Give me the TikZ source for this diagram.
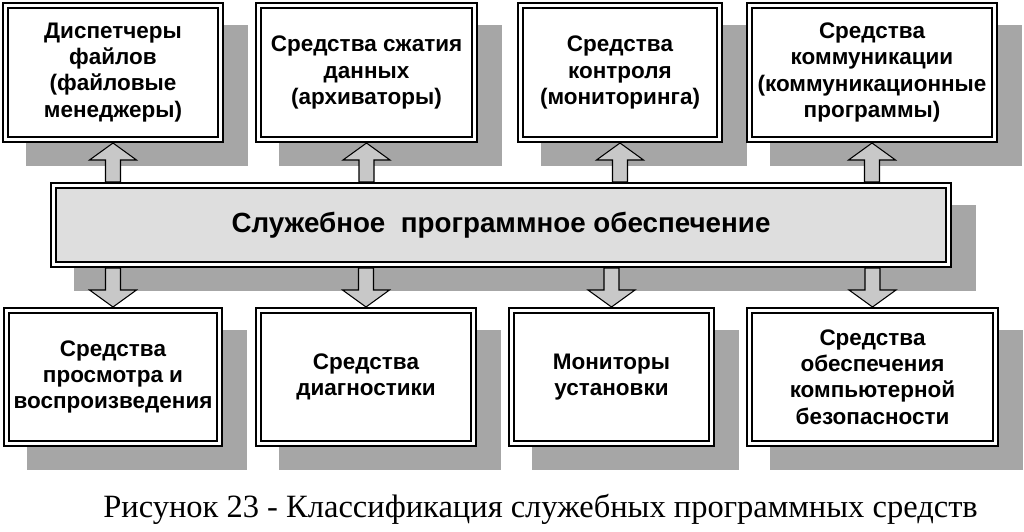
\documentclass[tikz,border=0pt]{standalone}
\usepackage{fontspec}
\setmainfont{Liberation Serif}
\setsansfont{Liberation Sans}
\usetikzlibrary{calc,backgrounds}
\definecolor{shadowgray}{RGB}{166,166,166}
\definecolor{barfill}{RGB}{222,222,222}
\definecolor{arrowfill}{RGB}{200,200,200}
\tikzset{
	toolbox/.style={draw, fill=white, line width=1.3pt, double=white, double distance=1.4pt,
		outer sep=2pt, inner sep=0pt, align=center,
		font=\fontsize{12.8}{14.9}\selectfont\sffamily\bfseries},
	toprow/.style={toolbox, minimum height=2.68cm},
	botrow/.style={toolbox, minimum height=2.66cm},
	blockarr/.style={draw=black, line width=0.6pt, fill=arrowfill, line join=miter},
}
\begin{document}
\begin{tikzpicture}[x=0.02cm, y=-0.02cm]
		\pgfmathsetmacro{\ytop}{72.5}
		\pgfmathsetmacro{\ybot}{377}
		\pgfmathsetmacro{\sw}{7.5}
		\pgfmathsetmacro{\hw}{23.5}
		\pgfmathsetmacro{\hl}{17}
		\useasboundingbox (0, 0) rectangle (1024, 531);
		\node[toprow, minimum width=4.30cm] (t1) at (113, \ytop) {Диспетчеры\\файлов\\(файловые\\менеджеры)};
		\node[toprow, minimum width=4.32cm] (t2) at (366.5, \ytop) {Средства сжатия\\данных\\(архиваторы)};
		\node[toprow, minimum width=3.98cm] (t3) at (620, \ytop) {Средства\\контроля\\(мониторинга)};
		\node[toprow, minimum width=4.90cm] (t4) at (872, \ytop) {Средства\\коммуникации\\(коммуникационные\\программы)};
		\node[toolbox, fill=barfill, minimum width=17.90cm, minimum height=1.58cm,
			font=\fontsize{15.8}{18}\selectfont\sffamily\bfseries] (bar) at (501, 225) {Служебное\ \ программное обеспечение};
		\node[botrow, minimum width=4.26cm] (b1) at (113, \ybot) {Средства\\просмотра и\\воспроизведения};
		\node[botrow, minimum width=4.30cm] (b2) at (366, \ybot) {Средства\\диагностики};
		\node[botrow, minimum width=4.00cm] (b3) at (611.5, \ybot) {Мониторы\\установки};
		\node[botrow, minimum width=4.92cm] (b4) at (872.5, \ybot) {Средства\\обеспечения\\компьютерной\\безопасности};
		\begin{scope}[on background layer]
			\foreach \n in {t1, t2, t3, t4, bar, b1, b2, b3, b4}
				\fill[shadowgray] ($(\n.north west)+(24, 23)$) rectangle ($(\n.south east)+(24, 23)$);
		\end{scope}
		\foreach \b in {t1, t2, t3, t4}
			\draw[blockarr] ($(\b |- bar.north)+(-\sw, 0)$) -- ($(\b.south)+(-\sw, \hl)$)
				-- ($(\b.south)+(-\hw, \hl)$) -- (\b.south) -- ($(\b.south)+(\hw, \hl)$)
				-- ($(\b.south)+(\sw, \hl)$) -- ($(\b |- bar.north)+(\sw, 0)$) -- cycle;
		\foreach \b in {b1, b2, b3, b4}
			\draw[blockarr] ($(\b |- bar.south)+(-\sw, 0)$) -- ($(\b.north)+(-\sw, -\hl)$)
				-- ($(\b.north)+(-\hw, -\hl)$) -- (\b.north) -- ($(\b.north)+(\hw, -\hl)$)
				-- ($(\b.north)+(\sw, -\hl)$) -- ($(\b |- bar.south)+(\sw, 0)$) -- cycle;
		\node[anchor=base west, inner sep=0pt, font=\fontsize{18.5}{22}\selectfont] (caption) at (103, 517)
			{Рисунок 23 - Классификация служебных программных средств};
	\end{tikzpicture}
\end{document}
